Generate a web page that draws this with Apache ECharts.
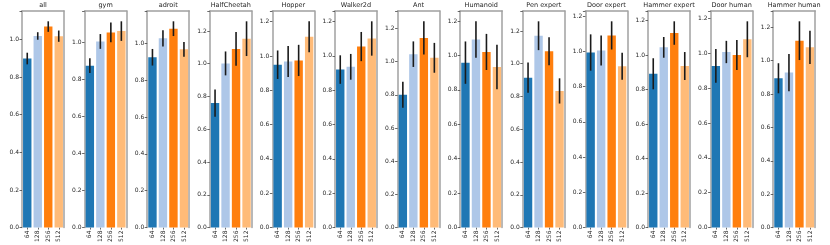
<!DOCTYPE html>
<html>
<head>
<meta charset="utf-8">
<script src="https://cdn.jsdelivr.net/npm/echarts@6/dist/echarts.min.js"></script>
<style>
html,body{margin:0;padding:0;background:#fff;}
#chart{width:830px;height:245px;}
</style>
</head>
<body>
<div id="chart"></div>
<script>
const panels = ['all','gym','adroit','HalfCheetah','Hopper','Walker2d','Ant','Humanoid','Pen expert','Door expert','Hammer expert','Door human','Hammer human'];
const sizes = ['64','128','256','512'];
const mean64  = [0.899, 0.876, 0.924, 0.760, 0.949, 0.920, 0.800, 0.958, 0.915, 0.993, 0.891, 0.927, 0.894];
const mean128 = [1.019, 1.007, 1.027, 1.002, 0.968, 0.936, 1.045, 1.092, 1.171, 1.004, 1.044, 1.007, 0.928];
const mean256 = [1.069, 1.056, 1.079, 1.090, 0.974, 1.054, 1.143, 1.020, 1.076, 1.090, 1.127, 0.990, 1.119];
const mean512 = [1.018, 1.063, 0.967, 1.153, 1.112, 1.101, 1.023, 0.933, 0.834, 0.915, 0.936, 1.080, 1.079];
const err64  = [0.031, 0.040, 0.045, 0.083, 0.083, 0.083, 0.078, 0.123, 0.092, 0.103, 0.090, 0.097, 0.090];
const err128 = [0.020, 0.040, 0.044, 0.073, 0.090, 0.075, 0.077, 0.106, 0.088, 0.085, 0.060, 0.064, 0.112];
const err256 = [0.028, 0.053, 0.040, 0.103, 0.091, 0.085, 0.100, 0.105, 0.085, 0.080, 0.068, 0.086, 0.116];
const err512 = [0.030, 0.053, 0.040, 0.106, 0.090, 0.100, 0.090, 0.129, 0.077, 0.077, 0.081, 0.103, 0.100];

const colors = ['#1f77b4', '#aec7e8', '#ff7f0e', '#ffbb78'];
const meansBySize = [mean64, mean128, mean256, mean512];
const errsBySize = [err64, err128, err256, err512];

const FONT = 'DejaVu Sans';
const frameColor = '#a0a0a0';
const textColor = '#262626';

const chart = echarts.init(document.getElementById('chart'), null, {renderer: 'canvas'});

const grids = [], xAxes = [], yAxes = [], series = [], titles = [];
const panelLeft0 = 22, panelStep = 62.6, panelWidth = 42, gridTop = 11, gridBottom = 17.3;

panels.forEach((name, i) => {
  const left = panelLeft0 + i * panelStep;
  grids.push({left: left, width: panelWidth, top: gridTop, bottom: gridBottom, containLabel: false});
  const m = meansBySize.map(a => a[i]);
  const e = errsBySize.map(a => a[i]);
  let dmax = 0;
  for (let k = 0; k < 4; k++) dmax = Math.max(dmax, m[k] + e[k]);
  const ymax = dmax * 1.05;

  titles.push({
    text: name, left: left + panelWidth / 2, top: 1.5, textAlign: 'center', padding: 0,
    textStyle: {fontFamily: FONT, fontSize: 6.5, fontWeight: 'normal', color: textColor, lineHeight: 8}
  });

  xAxes.push({
    type: 'category', gridIndex: i, data: sizes, position: 'bottom',
    axisLine: {show: false, onZero: false},
    axisTick: {show: true, alignWithLabel: true, length: 2, lineStyle: {color: '#444', width: 0.8}},
    axisLabel: {rotate: 90, fontSize: 6, fontFamily: FONT, color: textColor, margin: 3, interval: 0},
    splitLine: {show: false}
  });
  xAxes.push({
    type: 'category', gridIndex: i, data: sizes, position: 'top',
    axisLine: {show: true, onZero: false, lineStyle: {color: frameColor, width: 1.5}},
    axisTick: {show: false}, axisLabel: {show: false}, splitLine: {show: false}
  });
  yAxes.push({
    type: 'value', gridIndex: i, min: 0, max: ymax, interval: 0.2, position: 'left',
    axisLine: {show: true, onZero: false, lineStyle: {color: frameColor, width: 1.5}},
    axisTick: {show: true, length: 2.5, lineStyle: {color: '#444', width: 0.8}},
    axisLabel: {
      fontSize: 6, fontFamily: FONT, color: textColor, margin: 3, showMaxLabel: true,
      formatter: v => (Math.abs(v / 0.2 - Math.round(v / 0.2)) < 1e-6) ? v.toFixed(1) : ''
    },
    splitLine: {show: false}
  });
  yAxes.push({
    type: 'value', gridIndex: i, min: 0, max: ymax, interval: 0.2, position: 'right',
    axisLine: {show: true, onZero: false, lineStyle: {color: frameColor, width: 1.5}},
    axisTick: {show: false}, axisLabel: {show: false}, splitLine: {show: false}
  });

  series.push({
    type: 'bar', xAxisIndex: 2 * i, yAxisIndex: 2 * i,
    barCategoryGap: '20%',
    data: m.map((v, k) => ({value: v, itemStyle: {color: colors[k]}})),
    silent: true, animation: false, z: 2
  });
  series.push({
    type: 'custom', xAxisIndex: 2 * i, yAxisIndex: 2 * i,
    data: m.map((v, k) => [k, v, e[k]]),
    encode: {x: 0, y: 1},
    renderItem: (params, api) => {
      const x = api.value(0), mv = api.value(1), ev = api.value(2);
      const p1 = api.coord([x, mv + ev]);
      const p2 = api.coord([x, mv - ev]);
      return {
        type: 'line',
        shape: {x1: p1[0], y1: p1[1], x2: p2[0], y2: p2[1]},
        style: {stroke: '#1a1a1a', lineWidth: 1.6}
      };
    },
    silent: true, animation: false, z: 5
  });
});

chart.setOption({
  animation: false,
  backgroundColor: '#ffffff',
  title: titles,
  grid: grids,
  xAxis: xAxes,
  yAxis: yAxes,
  series: series
});
</script>
</body>
</html>
